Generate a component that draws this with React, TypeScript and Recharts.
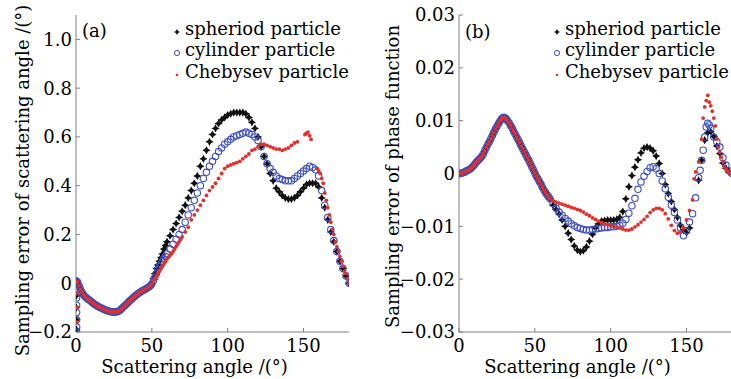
import { ScatterChart, Scatter, XAxis, YAxis, Legend } from 'recharts';

const FONT = 'DejaVu Serif, Liberation Serif, serif';
const FS = 18;
const FRAME = '#808080';
const BLUE = '#3d4fc4';
const RED = '#e3302a';

// ---- panel (a): sampling error of scattering angle ----
// 0-50 deg, all three series lie on top of each other
const bandAnglesA = [0, 1, 2, 3, 4, 5, 6, 7, 8, 9, 10, 11, 12, 13, 14, 15, 16, 17, 18, 19, 20, 21, 22, 23, 24, 25, 26, 27, 28, 29, 30, 31, 32, 33, 34, 35, 36, 37, 38, 39, 40, 41, 42, 43, 44, 45, 46, 47, 48, 49, 50];
const bandA = [0.01, 0.005, -0.01, -0.025, -0.037, -0.047, -0.055, -0.061, -0.066, -0.07, -0.075, -0.08, -0.085, -0.089, -0.093, -0.097, -0.1, -0.103, -0.106, -0.109, -0.111, -0.113, -0.115, -0.117, -0.118, -0.118, -0.118, -0.117, -0.115, -0.111, -0.106, -0.099, -0.093, -0.087, -0.081, -0.075, -0.069, -0.064, -0.058, -0.052, -0.047, -0.042, -0.038, -0.034, -0.03, -0.027, -0.024, -0.02, -0.015, -0.01, -0.003];

// points piled up at 0 deg
const spheriodSpikeA = [[0.3, -0.05], [0.3, -0.1], [0.3, -0.15], [0.3, -0.19]];
const cylinderSpikeA = [[0.4, -0.03], [0.4, -0.06], [0.4, -0.09], [0.4, -0.12], [0.4, -0.15], [0.4, -0.18], [0.4, -0.2]];
const chebysevSpikeA = [[0.5, -0.04], [0.5, -0.1], [0.5, -0.16]];

const spheriodTailA = [[51, 0.02], [52, 0.04], [53, 0.06], [54, 0.075], [55, 0.09], [56, 0.105], [57, 0.12], [58, 0.14], [59, 0.155], [60, 0.17], [62, 0.195], [64, 0.22], [66, 0.245], [68, 0.27], [70, 0.295], [72, 0.32], [74, 0.35], [76, 0.38], [78, 0.41], [80, 0.44], [82, 0.48], [84, 0.51], [86, 0.545], [88, 0.58], [90, 0.61], [92, 0.635], [94, 0.655], [96, 0.67], [98, 0.68], [100, 0.69], [102, 0.695], [104, 0.7], [106, 0.7], [108, 0.7], [110, 0.7], [112, 0.695], [114, 0.68], [116, 0.66], [118, 0.635], [120, 0.6], [122, 0.56], [124, 0.52], [126, 0.49], [128, 0.45], [130, 0.42], [132, 0.39], [134, 0.375], [136, 0.36], [138, 0.35], [140, 0.345], [142, 0.345], [144, 0.35], [146, 0.36], [148, 0.375], [150, 0.39], [152, 0.405], [154, 0.41], [156, 0.41], [158, 0.41], [160, 0.395], [162, 0.35], [164, 0.31], [166, 0.26], [168, 0.21], [170, 0.17], [172, 0.13], [174, 0.09], [176, 0.06], [178, 0.03], [180, 0]];
const cylinderTailA = [[51, 0.01], [52, 0.025], [53, 0.04], [54, 0.055], [55, 0.068], [56, 0.08], [57, 0.09], [58, 0.1], [59, 0.11], [60, 0.12], [62, 0.14], [64, 0.16], [66, 0.18], [68, 0.2], [70, 0.22], [72, 0.25], [74, 0.28], [76, 0.31], [78, 0.34], [80, 0.37], [82, 0.4], [84, 0.43], [86, 0.455], [88, 0.48], [90, 0.5], [92, 0.52], [94, 0.54], [96, 0.555], [98, 0.57], [100, 0.58], [102, 0.59], [104, 0.6], [106, 0.605], [108, 0.61], [110, 0.615], [112, 0.62], [114, 0.615], [116, 0.61], [118, 0.6], [120, 0.585], [122, 0.56], [124, 0.52], [126, 0.49], [128, 0.47], [130, 0.455], [132, 0.44], [134, 0.43], [136, 0.425], [138, 0.42], [140, 0.42], [142, 0.42], [144, 0.43], [146, 0.44], [148, 0.45], [150, 0.46], [152, 0.47], [154, 0.48], [156, 0.475], [158, 0.465], [160, 0.44], [162, 0.38], [164, 0.32], [166, 0.27], [168, 0.22], [170, 0.175], [172, 0.13], [174, 0.09], [176, 0.06], [178, 0.03], [180, 0]];
const chebysevTailA = [[51, 0.01], [52, 0.02], [53, 0.03], [54, 0.04], [55, 0.05], [56, 0.06], [57, 0.07], [58, 0.08], [59, 0.09], [60, 0.1], [61, 0.107], [62, 0.115], [63, 0.122], [64, 0.13], [65, 0.14], [66, 0.15], [67, 0.16], [68, 0.17], [69, 0.18], [70, 0.19], [72, 0.21], [74, 0.23], [76, 0.26], [78, 0.28], [80, 0.3], [82, 0.32], [84, 0.34], [86, 0.36], [88, 0.38], [90, 0.395], [92, 0.41], [94, 0.43], [96, 0.45], [98, 0.47], [100, 0.48], [102, 0.485], [104, 0.49], [106, 0.495], [108, 0.5], [110, 0.51], [112, 0.52], [114, 0.53], [116, 0.545], [118, 0.55], [120, 0.56], [122, 0.57], [124, 0.57], [126, 0.565], [128, 0.56], [130, 0.555], [132, 0.55], [134, 0.55], [136, 0.545], [138, 0.55], [140, 0.555], [142, 0.565], [144, 0.575], [146, 0.58], [151, 0.61], [152, 0.615], [153, 0.62], [154, 0.605], [155, 0.59], [159, 0.47], [160, 0.46], [161, 0.45], [162, 0.43], [163, 0.41], [164, 0.37], [165, 0.34], [166, 0.31], [167, 0.28], [168, 0.25], [169, 0.22], [170, 0.2], [171, 0.17], [172, 0.15], [173, 0.13], [174, 0.11], [175, 0.09], [176, 0.07], [177, 0.05], [178, 0.04], [179, 0.02], [180, 0]];

// ---- panel (b): sampling error of phase function ----
const bandAnglesB = [0, 1, 2, 3, 4, 5, 6, 7, 8, 9, 10, 11, 12, 13, 14, 15, 16, 17, 18, 19, 20, 21, 22, 23, 24, 25, 26, 27, 28, 29, 30, 31, 32, 33, 34, 35, 36, 37, 38, 39, 40, 41, 42, 43, 44, 45, 46, 47, 48, 49, 50, 51, 52, 53, 54, 55, 56, 57, 58, 59, 60];
const bandB = [0, 0, 0.0001, 0.0002, 0.0003, 0.0005, 0.0006, 0.0008, 0.001, 0.0013, 0.0016, 0.002, 0.0023, 0.0026, 0.0029, 0.0032, 0.0037, 0.0043, 0.0049, 0.0055, 0.006, 0.0066, 0.0072, 0.0078, 0.0084, 0.0089, 0.0094, 0.0099, 0.0103, 0.0106, 0.0106, 0.0104, 0.01, 0.0096, 0.0091, 0.0086, 0.008, 0.0075, 0.0069, 0.0064, 0.0058, 0.0052, 0.0047, 0.0041, 0.0036, 0.003, 0.0025, 0.0019, 0.0013, 0.0007, 0.0001, -0.0005, -0.001, -0.0015, -0.002, -0.0026, -0.0031, -0.0036, -0.004, -0.0044, -0.0048];

const spheriodTailB = [[62, -0.006], [64, -0.0068], [66, -0.0077], [68, -0.0088], [70, -0.01], [72, -0.0113], [74, -0.0125], [76, -0.0137], [78, -0.0145], [80, -0.0148], [82, -0.0146], [84, -0.0139], [86, -0.0128], [88, -0.0115], [90, -0.0103], [92, -0.0095], [94, -0.009], [96, -0.0089], [98, -0.0088], [100, -0.0088], [102, -0.0088], [104, -0.0087], [106, -0.0083], [108, -0.0072], [110, -0.0048], [112, -0.0025], [114, -0.0004], [116, 0.0012], [118, 0.0026], [120, 0.0039], [122, 0.0048], [124, 0.005], [126, 0.0048], [128, 0.0043], [130, 0.0033], [132, 0.0019], [134, 0], [136, -0.0021], [138, -0.0038], [140, -0.0053], [142, -0.0068], [144, -0.0083], [146, -0.0098], [148, -0.0107], [150, -0.0112], [152, -0.0103], [158, -0.0013], [160, 0.0025], [162, 0.0063], [164, 0.0077], [166, 0.0079], [168, 0.007], [170, 0.0052], [172, 0.0038], [174, 0.002], [176, 0.001], [178, 0.0003], [180, 0]];
const cylinderTailB = [[62, -0.0057], [64, -0.0066], [66, -0.0073], [68, -0.0079], [70, -0.0085], [72, -0.009], [74, -0.0095], [76, -0.0099], [78, -0.0102], [80, -0.0104], [82, -0.0106], [84, -0.0107], [86, -0.0107], [88, -0.0106], [90, -0.0105], [92, -0.0104], [94, -0.0103], [96, -0.0102], [98, -0.0102], [100, -0.0101], [102, -0.0101], [104, -0.01], [106, -0.0098], [108, -0.0094], [110, -0.0087], [112, -0.0075], [114, -0.0061], [116, -0.0047], [118, -0.003], [120, -0.0016], [122, -0.0005], [124, 0.0004], [126, 0.0011], [128, 0.0013], [130, 0.0009], [132, 0], [134, -0.0014], [136, -0.0029], [138, -0.0045], [140, -0.006], [142, -0.0074], [144, -0.0088], [146, -0.0103], [148, -0.0118], [150, -0.0108], [152, -0.0092], [154, -0.0076], [156, -0.0046], [158, -0.0008], [159, 0.0006], [160, 0.0025], [161, 0.0044], [162, 0.0069], [163, 0.0088], [164, 0.0095], [165, 0.0092], [166, 0.0086], [168, 0.0069], [170, 0.006], [172, 0.005], [174, 0.003], [176, 0.0016], [178, 0.0005], [180, 0]];
const chebysevTailB = [[62, -0.0052], [64, -0.0054], [66, -0.0056], [68, -0.0058], [70, -0.006], [72, -0.0062], [74, -0.0064], [76, -0.0066], [78, -0.0068], [80, -0.007], [82, -0.0073], [84, -0.0077], [86, -0.008], [88, -0.0084], [90, -0.0087], [92, -0.009], [94, -0.0093], [96, -0.0095], [98, -0.0097], [100, -0.0099], [102, -0.01], [104, -0.0101], [106, -0.0103], [108, -0.0105], [110, -0.0107], [112, -0.0107], [114, -0.0105], [116, -0.0101], [118, -0.0097], [120, -0.0092], [122, -0.0087], [124, -0.0081], [126, -0.0074], [128, -0.0069], [130, -0.0066], [132, -0.0066], [134, -0.0069], [136, -0.0076], [138, -0.0086], [140, -0.0098], [142, -0.0108], [144, -0.0113], [146, -0.0111], [148, -0.0103], [150, -0.0088], [152, -0.007], [154, -0.005], [155, -0.001], [156, 0.0003], [158, 0.0022], [160, 0.0065], [161, 0.0105], [162, 0.0126], [163, 0.0138], [164, 0.0148], [165, 0.0135], [166, 0.0128], [167, 0.0118], [168, 0.0105], [169, 0.009], [170, 0.0065], [171, 0.005], [172, 0.004], [173, 0.0031], [174, 0.0022], [175, 0.0013], [176, 0.0008], [177, 0.0005], [178, 0.0002], [179, 0]];

const seriesNames = ['spheriod particle', 'cylinder particle', 'Chebysev particle'];
const xTicks = [0, 50, 100, 150];
const yTicksA = [-0.2, 0, 0.2, 0.4, 0.6, 0.8, 1.0];
const yTicksB = [-0.03, -0.02, -0.01, 0, 0.01, 0.02, 0.03];

const band = (angles: number[], vals: number[]) => angles.map((a, i) => ({ x: a, y: vals[i] }));
const pts = (pairs: number[][]) => pairs.map(([x, y]) => ({ x, y }));

const seriesA = {
  spheriod: [...pts(spheriodSpikeA), ...band(bandAnglesA, bandA), ...pts(spheriodTailA)],
  cylinder: [...pts(cylinderSpikeA), ...band(bandAnglesA, bandA), ...pts(cylinderTailA)],
  chebysev: [...pts(chebysevSpikeA), ...band(bandAnglesA, bandA), ...pts(chebysevTailA)],
};
const seriesB = {
  spheriod: [...band(bandAnglesB, bandB), ...pts(spheriodTailB)],
  cylinder: [...band(bandAnglesB, bandB), ...pts(cylinderTailB)],
  chebysev: [...band(bandAnglesB, bandB), ...pts(chebysevTailB)],
};

const minus = (s: string) => s.replace('-', '\u2212');
const fmtA = (v: number) => (v === 0 ? '0' : minus(v.toFixed(1)));
const fmtB = (v: number) => (v === 0 ? '0' : minus(v.toFixed(2)));

function Star({ cx, cy, s = 4.1 }: { cx: number; cy: number; s?: number }) {
  const k = s * 0.36;
  const d = `M${cx},${cy - s}L${cx + k},${cy - k}L${cx + s},${cy}L${cx + k},${cy + k}L${cx},${cy + s}L${cx - k},${cy + k}L${cx - s},${cy}L${cx - k},${cy - k}Z`;
  return <path d={d} fill="#111" />;
}

const starShape = (p: any) => <Star cx={p.cx} cy={p.cy} />;
const ringShape = (p: any) => <circle cx={p.cx} cy={p.cy} r={3.2} fill="none" stroke={BLUE} strokeWidth={1.1} />;
const dotShape = (p: any) => <circle cx={p.cx} cy={p.cy} r={1.9} fill={RED} />;

function legendMarker(name: string) {
  if (name.startsWith('spheriod')) return <Star cx={5} cy={14} s={3} />;
  if (name.startsWith('cylinder')) return <circle cx={5} cy={14} r={2.6} fill="none" stroke={BLUE} strokeWidth={1} />;
  return <circle cx={5} cy={14} r={1.3} fill={RED} />;
}

function LegendBox({ payload }: any) {
  const items = [...(payload || [])].sort(
    (a: any, b: any) => seriesNames.indexOf(String(a.value)) - seriesNames.indexOf(String(b.value)),
  );
  return (
    <div style={{ fontFamily: FONT, fontSize: FS, lineHeight: '21.3px', color: '#000' }}>
      {items.map((p: any) => (
        <div key={p.value} style={{ display: 'flex', whiteSpace: 'nowrap', height: 21.3 }}>
          <svg width={13} height={21} style={{ flex: 'none' }}>{legendMarker(String(p.value))}</svg>
          <span>{p.value}</span>
        </div>
      ))}
    </div>
  );
}

const yTitle = (text: string, dy: number) => (props: any) => {
  const vb = props.viewBox || { x: 0, y: 15, width: 76, height: 317 };
  const cx = vb.x + 29;
  const cy = vb.y + vb.height / 2 + dy;
  return (
    <text x={cx} y={cy} transform={`rotate(-90, ${cx}, ${cy})`} textAnchor="middle" fontFamily={FONT} fontSize={FS} fill="#000">
      {text}
    </text>
  );
};

const xTitle = (props: any) => {
  const vb = props.viewBox || { x: 76, y: 332, width: 273, height: 47 };
  return (
    <text x={vb.x + vb.width / 2 - 18} y={vb.y + 41} textAnchor="middle" fontFamily={FONT} fontSize={FS} fill="#000">
      Scattering angle /(°)
    </text>
  );
};

const tickStyle = { fontSize: FS, fill: '#000', fontFamily: FONT };

interface PanelProps {
  data: { spheriod: any[]; cylinder: any[]; chebysev: any[] };
  width: number;
  axisWidth: number;
  rightMargin: number;
  domain: [number, number];
  ticks: number[];
  fmt: (v: number) => string;
  title: string;
  titleDy: number;
  legendLeft: number;
  frameRight: boolean;
}

function Panel(p: PanelProps) {
  return (
    <ScatterChart width={p.width} height={379} margin={{ top: 15, right: p.rightMargin, bottom: 0, left: 0 }}>
      <XAxis
        type="number"
        dataKey="x"
        domain={[0, 180]}
        ticks={xTicks}
        height={47}
        stroke={FRAME}
        tick={tickStyle}
        tickSize={-4}
        tickMargin={11}
        allowDataOverflow
        label={{ content: xTitle }}
      />
      <XAxis xAxisId="top" orientation="top" type="number" domain={[0, 180]} height={0} tick={false} tickLine={false} stroke={FRAME} />
      <YAxis
        type="number"
        dataKey="y"
        domain={p.domain}
        ticks={p.ticks}
        width={p.axisWidth}
        stroke={FRAME}
        tick={tickStyle}
        tickSize={-4}
        tickMargin={8}
        tickFormatter={p.fmt}
        allowDataOverflow
        label={{ content: yTitle(p.title, p.titleDy) }}
      />
      {p.frameRight && (
        <YAxis yAxisId="right" orientation="right" type="number" domain={p.domain} width={0} tick={false} tickLine={false} stroke={FRAME} />
      )}
      <Legend
        layout="vertical"
        align="center"
        verticalAlign="middle"
        content={<LegendBox />}
        wrapperStyle={{ top: 18, left: p.legendLeft, width: 190 }}
      />
      <Scatter name={seriesNames[0]} data={p.data.spheriod} shape={starShape} fill="#111" isAnimationActive={false} />
      <Scatter name={seriesNames[1]} data={p.data.cylinder} shape={ringShape} fill={BLUE} isAnimationActive={false} />
      <Scatter name={seriesNames[2]} data={p.data.chebysev} shape={dotShape} fill={RED} isAnimationActive={false} />
    </ScatterChart>
  );
}

const tagStyle = { position: 'absolute' as const, fontFamily: FONT, fontSize: FS, lineHeight: '21px', color: '#000' };

export default function App() {
  return (
    <div style={{ position: 'absolute', left: 0, top: 0, width: 731, height: 379, overflow: 'hidden', background: '#fff' }}>
      <div style={{ position: 'absolute', left: 0, top: 0 }}>
        <Panel
          data={seriesA}
          width={365}
          axisWidth={76}
          rightMargin={16}
          domain={[-0.2, 1.1]}
          ticks={yTicksA}
          fmt={fmtA}
          title="Sampling error of scattering angle /(°)"
          titleDy={7}
          legendLeft={172}
          frameRight
        />
      </div>
      <div style={{ position: 'absolute', left: 370, top: 0 }}>
        <Panel
          data={seriesB}
          width={362}
          axisWidth={89}
          rightMargin={0}
          domain={[-0.03, 0.03]}
          ticks={yTicksB}
          fmt={fmtB}
          title="Sampling error of phase function"
          titleDy={3}
          legendLeft={182}
          frameRight={false}
        />
      </div>
      <div style={{ ...tagStyle, left: 82, top: 20 }}>(a)</div>
      <div style={{ ...tagStyle, left: 465, top: 21 }}>(b)</div>
    </div>
  );
}
